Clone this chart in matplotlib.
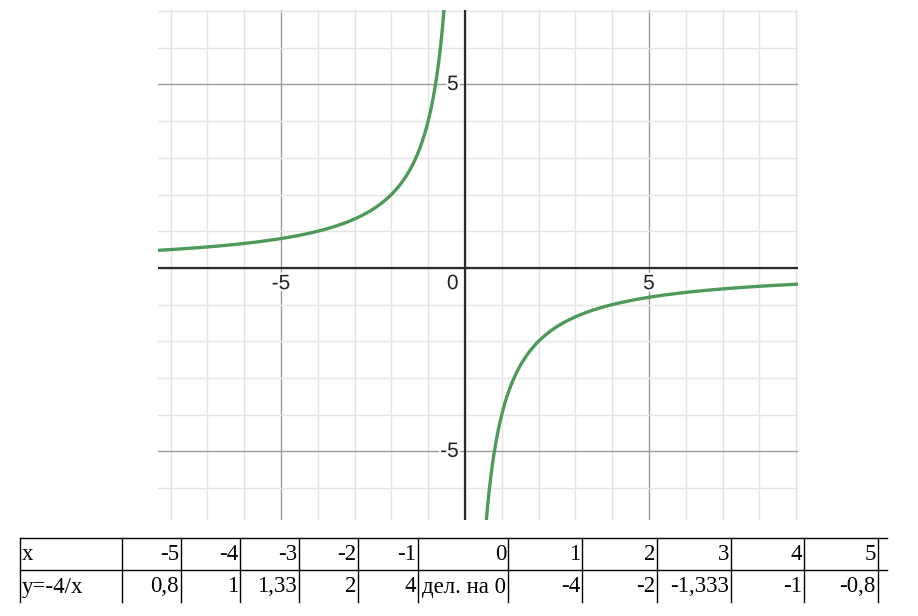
import numpy as np
import matplotlib.pyplot as plt
import matplotlib.patheffects as pe

# function y = k / x
k = -4
x_min, x_max = -8.34, 9.05
y_min, y_max = -6.87, 7.03

# table data
tbl_x = ['-5', '-4', '-3', '-2', '-1', '0', '1', '2', '3', '4', '5']
tbl_y = ['0,8', '1', '1,33', '2', '4', 'дел. на 0', '-4', '-2', '-1,333', '-1', '-0,8']
col_edges = [20, 122, 181, 240, 299, 358, 418, 508, 582, 657, 731, 804, 878]

fig = plt.figure(figsize=(9.18, 6.16), dpi=100)

# graph
ax = fig.add_axes([158 / 918, (616 - 520) / 616, 640 / 918, 510 / 616])
ax.set_xlim(x_min, x_max)
ax.set_ylim(y_min, y_max)
for v in range(-8, 10):
    c = '#9a9a9a' if v % 5 == 0 else '#e4e4e4'
    ax.axvline(v, color=c, lw=1.0, zorder=1)
for v in range(-6, 8):
    c = '#9a9a9a' if v % 5 == 0 else '#e4e4e4'
    ax.axhline(v, color=c, lw=1.0, zorder=1)
ax.axhline(0, color='#2b2b2b', lw=1.6, zorder=2)
ax.axvline(0, color='#2b2b2b', lw=1.6, zorder=2)

xl = np.linspace(x_min, -0.05, 800)
xr = np.linspace(0.05, x_max, 800)
ax.plot(xl, k / xl, color='#4e9a5a', lw=2.4, zorder=3)
ax.plot(xr, k / xr, color='#4e9a5a', lw=2.4, zorder=3)

halo = [pe.withStroke(linewidth=3, foreground='white')]
lbl = dict(fontsize=15, family='Liberation Sans', color='#222222', zorder=4,
           path_effects=halo)
ax.text(-5, -0.17, '-5', ha='center', va='top', **lbl)
ax.text(5, -0.17, '5', ha='center', va='top', **lbl)
ax.text(-0.17, -0.17, '0', ha='right', va='top', **lbl)
ax.text(-0.17, 5, '5', ha='right', va='center', **lbl)
ax.text(-0.17, -5, '-5', ha='right', va='center', **lbl)
ax.set_xticks([])
ax.set_yticks([])
for s in ax.spines.values():
    s.set_visible(False)

# table below
tx = fig.add_axes([0, 0, 1, 1])
tx.set_xlim(0, 918)
tx.set_ylim(616, 0)
tx.axis('off')
top, mid, bot = 538, 570, 602
tx.plot([20, 887], [top, top], color='black', lw=1.0)
tx.plot([20, 887], [mid, mid], color='black', lw=1.0)
for e in col_edges:
    tx.plot([e, e], [top, bot], color='black', lw=1.0)

tf = dict(fontsize=16.5, family='Liberation Serif', color='black', va='center')
tx.text(22, (top + mid) / 2 + 1, 'x', ha='left', **tf)
tx.text(22, (mid + bot) / 2 + 1, 'y=-4/x', ha='left', **tf)
for i in range(len(tbl_x)):
    right = col_edges[i + 2] - 2
    tx.text(right, (top + mid) / 2 + 1, tbl_x[i], ha='right', **tf)
    tx.text(right, (mid + bot) / 2 + 1, tbl_y[i], ha='right', **tf)

fig.savefig('out.png', dpi=100)
